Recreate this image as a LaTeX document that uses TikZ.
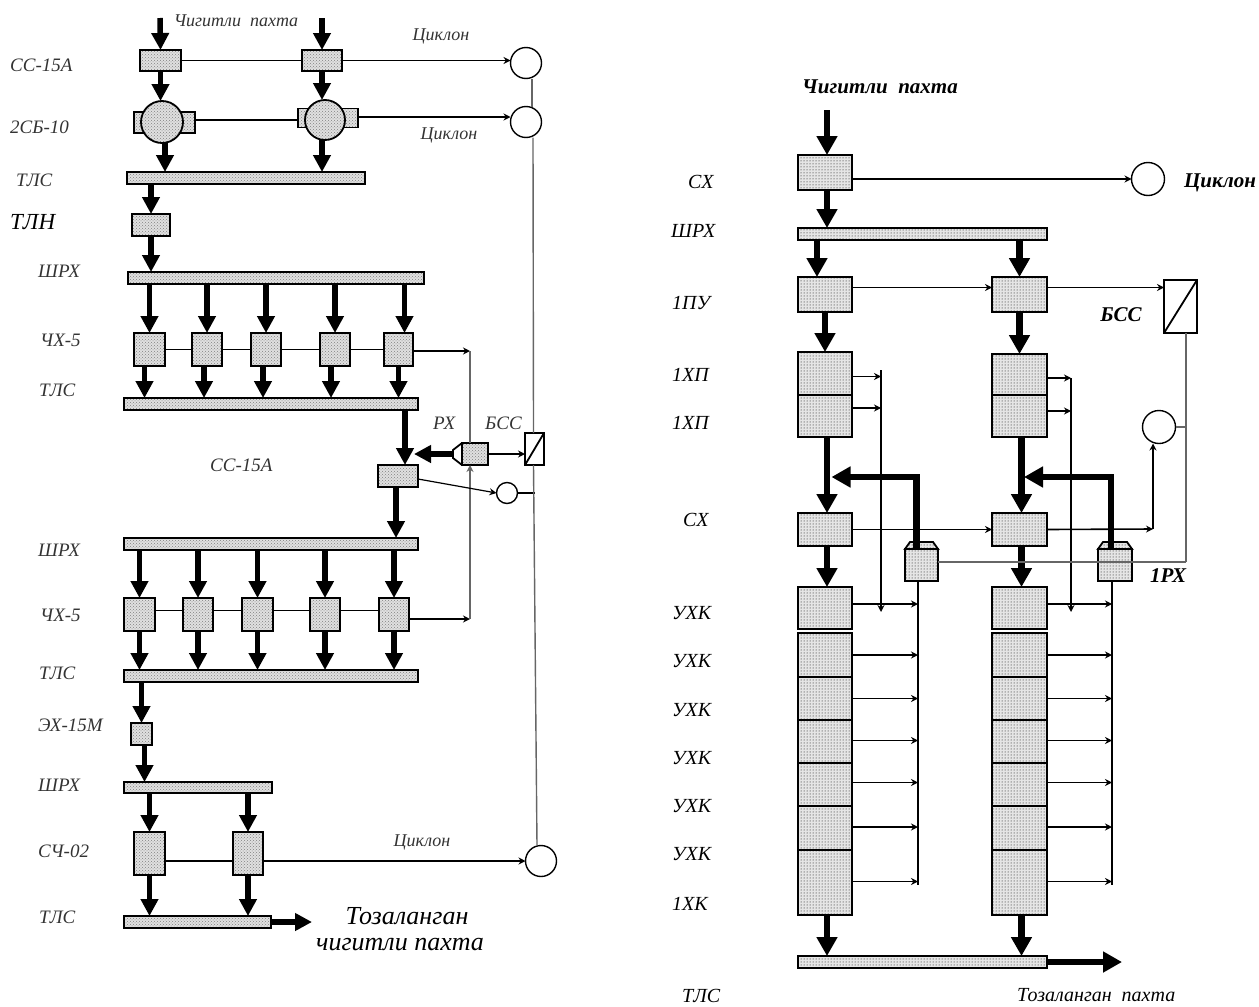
\documentclass[tikz,border=0pt]{standalone}
\usepackage{fontspec}
\setmainfont{Liberation Serif}
\usepackage{tikz}
\usetikzlibrary{positioning,calc,arrows.meta,patterns}

\tikzset{
 cellL/.style = {rectangle, draw, line width=1.8pt, preaction={fill=black!12}, pattern=crosshatch dots, pattern color=black!50, inner sep=0pt, outer sep=0pt},
 cellR/.style = {rectangle, draw, line width=2pt, preaction={fill=black!10}, pattern=dots, pattern color=black, inner sep=0pt, outer sep=0pt},
 blank/.style = {rectangle, draw, line width=1.8pt, fill=white, inner sep=0pt, outer sep=0pt},
 cyclone/.style = {circle, draw, line width=1.4pt, fill=white, minimum size=31, inner sep=0pt, outer sep=0pt},
 flow/.style = {line width=5.5pt, -{Triangle[length=17pt,width=17pt]}},
 flowR/.style = {line width=6.5pt, -{Triangle[length=19pt,width=20pt]}},
 pipe/.style = {line width=1.6pt, -{Stealth[length=7pt,width=7pt]}},
 wire/.style = {line width=1.6pt},
 greywire/.style = {line width=1.4pt, black!60},
 lab/.style = {anchor=west, text=black!80, font=\itshape\fontsize{19}{21}\selectfont, inner sep=0pt},
 labR/.style = {anchor=west, font=\itshape\fontsize{20}{22}\selectfont, inner sep=0pt},
 labB/.style = {font=\bfseries\itshape\fontsize{21}{23}\selectfont, inner sep=0pt},
 small/.style = {text=black!80, font=\itshape\fontsize{18}{20}\selectfont, inner sep=0pt},
}

\begin{document}
\begin{tikzpicture}[x=1pt, y=-1pt]
\useasboundingbox (0,0) rectangle (1259,1007);

% left line
\node[cellL, minimum width=41, minimum height=21] (cs1) at (160.5,60.5) {};
\node[cellL, minimum width=40, minimum height=21] (cs2) at (322,60.5) {};
\node[cellL, minimum width=61, minimum height=21] (dr1) at (164.5,122.5) {};
\node[cellL, minimum width=60, minimum height=19] (dr2) at (328,118) {};
\node[cellL, circle, minimum size=42] (dc1) at (162,122) {};
\node[cellL, circle, minimum size=40] (dc2) at (325,120) {};
\node[cellL, minimum width=238, minimum height=12] (tls1) at (246,178) {};
\node[cellL, minimum width=38, minimum height=22] (tln) at (151,225) {};
\node[cellL, minimum width=296, minimum height=12] (shr1) at (276,278) {};
\node[cellL, minimum width=31, minimum height=33] (ch1) at (149.5,349.5) {};
\node[cellL, minimum width=30, minimum height=33] (ch2) at (207,349.5) {};
\node[cellL, minimum width=30, minimum height=33] (ch3) at (266,349.5) {};
\node[cellL, minimum width=30, minimum height=33] (ch4) at (335,349.5) {};
\node[cellL, minimum width=29, minimum height=33] (ch5) at (398.5,349.5) {};
\node[cellL, minimum width=294, minimum height=12] (tls2) at (271,404) {};
\node[cellL, minimum width=26, minimum height=22] (rxl) at (475,454) {};
\node[blank, minimum width=19, minimum height=32] (bss1) at (534.5,449) {};
\node[cellL, minimum width=40, minimum height=22] (cs3) at (398,476) {};
\node[cellL, minimum width=294, minimum height=12] (shr2) at (271,544) {};
\node[cellL, minimum width=31, minimum height=33] (cb1) at (139.5,614.5) {};
\node[cellL, minimum width=30, minimum height=33] (cb2) at (198,614.5) {};
\node[cellL, minimum width=31, minimum height=33] (cb3) at (257.5,614.5) {};
\node[cellL, minimum width=30, minimum height=33] (cb4) at (325,614.5) {};
\node[cellL, minimum width=30, minimum height=33] (cb5) at (394,614.5) {};
\node[cellL, minimum width=294, minimum height=12] (tls3) at (271,676) {};
\node[cellL, minimum width=21, minimum height=22] (ex) at (141.5,734) {};
\node[cellL, minimum width=148, minimum height=11] (shr3) at (198,787.5) {};
\node[cellL, minimum width=31, minimum height=43] (sc1) at (149.5,853.5) {};
\node[cellL, minimum width=30, minimum height=43] (sc2) at (248,853.5) {};
\node[cellL, minimum width=147, minimum height=12] (tls4) at (197.5,922) {};
\node[cyclone] (cy1) at (526,63) {};
\node[cyclone] (cy2) at (526,122) {};
\node[cyclone, minimum size=21] (cy3) at (507,493) {};
\node[cyclone] (cy4) at (541,861) {};

\coordinate (in1) at (160,18);
\coordinate (in2) at (322,18);
\coordinate (rtop) at (470,351);
\coordinate (rbot) at (470,619);
\coordinate (rxneck) at (453,454);
\coordinate (rxtip) at (414,454);
\coordinate (tip1) at (312,922);

\draw[line width=1.8pt] (rxl.north west) -- ++(-9,7) -- ++(0,8) -- (rxl.south west);
\draw[line width=1.8pt] (bss1.south west) -- (bss1.north east);

\draw[flow] (in1) -- (cs1.north);
\draw[flow] (in2) -- (cs2.north);
\draw[flow] (cs1.south) -- (dc1.north -| cs1.south);
\draw[flow] (cs2.south) -- (dc2.north -| cs2.south);
\draw[flow] ([xshift=3]dc1.south) -- ([xshift=3]dc1.south |- tls1.north);
\draw[flow] ([xshift=-3]dc2.south) -- ([xshift=-3]dc2.south |- tls1.north);
\draw[flow] (tln.north |- tls1.south) -- (tln.north);
\draw[flow] (tln.south) -- (tln.south |- shr1.north);
\draw[flow] (ch1.north |- shr1.south) -- (ch1.north);
\draw[flow] (ch2.north |- shr1.south) -- (ch2.north);
\draw[flow] (ch3.north |- shr1.south) -- (ch3.north);
\draw[flow] (ch4.north |- shr1.south) -- (ch4.north);
\draw[flow] ([xshift=6]ch5.north |- shr1.south) -- ([xshift=6]ch5.north);
\draw[flow] ([xshift=-5]ch1.south) -- ([xshift=-5]ch1.south |- tls2.north);
\draw[flow] ([xshift=-3]ch2.south) -- ([xshift=-3]ch2.south |- tls2.north);
\draw[flow] ([xshift=-3]ch3.south) -- ([xshift=-3]ch3.south |- tls2.north);
\draw[flow] ([xshift=-4]ch4.south) -- ([xshift=-4]ch4.south |- tls2.north);
\draw[flow] (ch5.south) -- (ch5.south |- tls2.north);
\draw[flow] ([xshift=7]cs3.north |- tls2.south) -- ([xshift=7]cs3.north);
\draw[flow] (rxneck) -- (rxtip);
\draw[flow] ([xshift=-2]cs3.south) -- ([xshift=-2]cs3.south |- shr2.north);
\draw[flow] (cb1.north |- shr2.south) -- (cb1.north);
\draw[flow] (cb2.north |- shr2.south) -- (cb2.north);
\draw[flow] (cb3.north |- shr2.south) -- (cb3.north);
\draw[flow] (cb4.north |- shr2.south) -- (cb4.north);
\draw[flow] (cb5.north |- shr2.south) -- (cb5.north);
\draw[flow] (cb1.south) -- (cb1.south |- tls3.north);
\draw[flow] (cb2.south) -- (cb2.south |- tls3.north);
\draw[flow] (cb3.south) -- (cb3.south |- tls3.north);
\draw[flow] (cb4.south) -- (cb4.south |- tls3.north);
\draw[flow] (cb5.south) -- (cb5.south |- tls3.north);
\draw[flow] (ex.north |- tls3.south) -- (ex.north);
\draw[flow] ([xshift=3]ex.south) -- ([xshift=3]ex.south |- shr3.north);
\draw[flow] (sc1.north |- shr3.south) -- (sc1.north);
\draw[flow] (sc2.north |- shr3.south) -- (sc2.north);
\draw[flow] (sc1.south) -- (sc1.south |- tls4.north);
\draw[flow] (sc2.south) -- (sc2.south |- tls4.north);
\draw[flow] (tls4.east) -- (tip1);

\draw[wire] (cs1.east) -- (cs2.west);
\draw[pipe] (cs2.east) -- (cs2.east -| cy1.west);
\draw[wire] (dr1.east |- dc2.center) -- (dr2.west |- dc2.center);
\draw[pipe] ([yshift=1]dr2.east) -- ([yshift=1]dr2.east -| cy2.west);
\draw[wire] (ch1.east) -- (ch2.west);
\draw[wire] (ch2.east) -- (ch3.west);
\draw[wire] (ch3.east) -- (ch4.west);
\draw[wire] (ch4.east) -- (ch5.west);
\draw[pipe] (ch5.east |- rtop) -- (rtop);
\draw[wire] ([yshift=4]cb1.east) -- ([yshift=4]cb2.west);
\draw[wire] ([yshift=4]cb2.east) -- ([yshift=4]cb3.west);
\draw[wire] ([yshift=4]cb3.east) -- ([yshift=4]cb4.west);
\draw[wire] ([yshift=4]cb4.east) -- ([yshift=4]cb5.west);
\draw[pipe] (cb5.east |- rbot) -- (rbot);
\draw[wire] (sc1.east |- cy4.west) -- (sc2.west |- cy4.west);
\draw[pipe] (sc2.east |- cy4.west) -- (cy4.west);
\draw[greywire] (rtop) -- (rtop |- rxl.north);
\draw[greywire, -{Stealth[length=7pt,width=7pt]}] (rbot) -- (rbot |- rxl.south);
\draw[pipe] (rxl.east) -- (bss1.west |- rxl.east);
\draw[line width=1.2pt, -{Stealth[length=7pt,width=7pt]}] ([yshift=-3]cs3.east) -- (cy3.west);
\draw[wire] (cy3.east) -- (cy3.east -| bss1.south);
\draw[greywire] ([xshift=6]cy1.south) -- ([xshift=6]cy2.north);
\draw[greywire] ([xshift=7]cy2.south) -- ([xshift=-1]bss1.north);
\draw[greywire] ([xshift=-1]bss1.south) -- ([xshift=-4]cy4.north);

% left labels
\node[lab] (l1) at (10,65) {СС-15А};
\node[lab] (l2) at (10,127) {2СБ-10};
\node[lab] (l3) at (16,180) {ТЛС};
\node[lab, text=black, font=\itshape\fontsize{23}{25}\selectfont] (l4) at (10,222) {ТЛН};
\node[lab] (l5) at (38,271) {ШРХ};
\node[lab] (l6) at (40,340) {ЧХ-5};
\node[lab] (l7) at (39,390) {ТЛС};
\node[lab] (l8) at (38,550) {ШРХ};
\node[lab] (l9) at (40,615) {ЧХ-5};
\node[lab] (l10) at (39,673) {ТЛС};
\node[lab] (l11) at (38,725) {ЭХ-15М};
\node[lab] (l12) at (38,785) {ШРХ};
\node[lab] (l13) at (38,851) {СЧ-02};
\node[lab] (l14) at (39,917) {ТЛС};
\node[small] (t1) at (236,21) {Чигитли\ \ пахта};
\node[small] (t2) at (441,36) {Циклон};
\node[small] (t3) at (449,135) {Циклон};
\node[small] (t4) at (422,842) {Циклон};
\node[lab] (t5) at (433,423) {РХ};
\node[lab] (t6) at (485,423) {БСС};
\node[lab] (t7) at (210,465) {СС-15А};
\node[anchor=center, font=\itshape\fontsize{26}{28}\selectfont, inner sep=0pt] (t8) at (407,916) {Тозаланган};
\node[anchor=center, font=\itshape\fontsize{26}{28}\selectfont, inner sep=0pt] (t9) at (400,945) {чигитли пахта};

% right line
\node[cellR, minimum width=54, minimum height=35] (a1) at (825,172.5) {};
\node[cellR, minimum width=249, minimum height=12] (shrR) at (922.5,234) {};
\node[cellR, minimum width=54, minimum height=35] (pu1) at (825,294.5) {};
\node[cellR, minimum width=55, minimum height=35] (pu2) at (1019.5,294.5) {};
\node[blank, minimum width=33, minimum height=53] (bss2) at (1180.5,306.5) {};
\node[cellR, minimum width=54, minimum height=43] (xp1) at (825,373.5) {};
\node[cellR, minimum width=54, minimum height=42] (xp2) at (825,416) {};
\node[cellR, minimum width=55, minimum height=41] (xp3) at (1019.5,374.5) {};
\node[cellR, minimum width=55, minimum height=42] (xp4) at (1019.5,416) {};
\node[cellR, minimum width=54, minimum height=33] (sx1) at (825,529.5) {};
\node[cellR, minimum width=55, minimum height=33] (sx2) at (1019.5,529.5) {};
\node[cellR, minimum width=33, minimum height=32] (rx1) at (921.5,565) {};
\node[cellR, minimum width=34, minimum height=32] (rx2) at (1115,565) {};
\node[cellR, minimum width=54, minimum height=42] (uk1) at (825,608) {};
\node[cellR, minimum width=54, minimum height=44] (uk2) at (825,655) {};
\node[cellR, minimum width=54, minimum height=43] (uk3) at (825,698.5) {};
\node[cellR, minimum width=54, minimum height=43] (uk4) at (825,741.5) {};
\node[cellR, minimum width=54, minimum height=43] (uk5) at (825,784.5) {};
\node[cellR, minimum width=54, minimum height=44] (uk6) at (825,828) {};
\node[cellR, minimum width=54, minimum height=65] (uk7) at (825,882.5) {};
\node[cellR, minimum width=55, minimum height=42] (uv1) at (1019.5,608) {};
\node[cellR, minimum width=55, minimum height=44] (uv2) at (1019.5,655) {};
\node[cellR, minimum width=55, minimum height=43] (uv3) at (1019.5,698.5) {};
\node[cellR, minimum width=55, minimum height=43] (uv4) at (1019.5,741.5) {};
\node[cellR, minimum width=55, minimum height=43] (uv5) at (1019.5,784.5) {};
\node[cellR, minimum width=55, minimum height=44] (uv6) at (1019.5,828) {};
\node[cellR, minimum width=55, minimum height=65] (uv7) at (1019.5,882.5) {};
\node[cellR, minimum width=249, minimum height=12] (tlsR) at (922.5,962) {};
\node[cyclone, minimum size=33] (cy5) at (1148,179) {};
\node[cyclone, minimum size=33] (cy6) at (1159,427) {};

\coordinate (in3) at (827,110);
\coordinate (tip2) at (1122,962);
\coordinate (bus1) at (881,370);
\coordinate (bus2) at (1071,378);
\coordinate (bus1e) at (881,612);
\coordinate (bus2e) at (1071,612);
\coordinate (ub1) at (918,885);
\coordinate (ub2) at (1112,885);
\coordinate (ret1) at (1186,562);
\coordinate (ret2) at (1186,427);
\coordinate (up1) at (1153,529);

\draw[line width=1.8pt, preaction={fill=black!10}, pattern=dots] (rx1.north west) -- ++(5,-7) -- ++(23,0) -- (rx1.north east) -- cycle;
\draw[line width=1.8pt, preaction={fill=black!10}, pattern=dots] (rx2.north west) -- ++(5,-7) -- ++(24,0) -- (rx2.north east) -- cycle;
\draw[line width=1.8pt] (bss2.south west) -- (bss2.north east);

\draw[flowR] (in3) -- (in3 |- a1.north);
\draw[flowR] (in3 |- a1.south) -- (in3 |- shrR.north);
\draw[flowR] ([xshift=-8]pu1.north |- shrR.south) -- ([xshift=-8]pu1.north);
\draw[flowR] (pu2.north |- shrR.south) -- (pu2.north);
\draw[flowR] (pu1.south) -- (pu1.south |- xp1.north);
\draw[flowR] (pu2.south) -- (pu2.south |- xp3.north);
\draw[flowR] ([xshift=2]xp2.south) -- ([xshift=2]sx1.north);
\draw[flowR] ([xshift=2]xp4.south) -- ([xshift=2]sx2.north);
\draw[flowR] ([xshift=2]sx1.south) -- ([xshift=2]uk1.north);
\draw[flowR] ([xshift=2]sx2.south) -- ([xshift=2]uv1.north);
\draw[flowR] ([xshift=-5]rx1.north) -- ++(0,-72) -- ++(-85,0);
\draw[flowR] ([xshift=-4]rx2.north) -- ++(0,-72) -- ++(-87,0);
\draw[flowR] ([xshift=2]uk7.south) -- ([xshift=2]uk7.south |- tlsR.north);
\draw[flowR] ([xshift=2]uv7.south) -- ([xshift=2]uv7.south |- tlsR.north);
\draw[flowR] (tlsR.east) -- (tip2);

\draw[pipe] (a1.east |- cy5.west) -- (cy5.west);
\draw[pipe] ([yshift=7]pu1.east) -- ([yshift=7]pu2.west);
\draw[pipe] ([yshift=7]pu2.east) -- ([yshift=7]pu2.east -| bss2.west);
\draw[pipe] ([yshift=-3]xp1.east) -- ([yshift=-3]xp1.east -| bus1);
\draw[pipe] ([yshift=8]xp2.east) -- ([yshift=8]xp2.east -| bus1);
\draw[pipe] (xp3.east |- bus2) -- (bus2);
\draw[pipe] ([yshift=5]xp4.east) -- ([yshift=5]xp4.east -| bus2);
\draw[pipe] (bus1) -- (bus1e);
\draw[pipe] (bus2) -- (bus2e);
\draw[pipe] (sx1.east) -- (sx2.west);
\draw[pipe] (sx2.east) -- (up1);
\draw[pipe] (up1) -- (up1 |- cy6.south);
\draw[greywire] (bss2.south -| ret1) -- (ret1);
\draw[greywire] (ret2) -- (cy6.east);
\draw[greywire] (ret1) -- (rx1.east |- ret1);

\draw[wire] (rx1.south -| ub1) -- (ub1);
\draw[wire] (rx2.south -| ub2) -- (ub2);
\draw[pipe] ([yshift=4]uk1.east) -- ([yshift=4]uk1.east -| ub1);
\draw[pipe] (uk2.east) -- (uk2.east -| ub1);
\draw[pipe] (uk3.east) -- (uk3.east -| ub1);
\draw[pipe] ([yshift=1]uk4.east) -- ([yshift=1]uk4.east -| ub1);
\draw[pipe] ([yshift=2]uk5.east) -- ([yshift=2]uk5.east -| ub1);
\draw[pipe] ([yshift=1]uk6.east) -- ([yshift=1]uk6.east -| ub1);
\draw[pipe] ([yshift=1]uk7.east) -- ([yshift=1]uk7.east -| ub1);
\draw[pipe] ([yshift=4]uv1.east) -- ([yshift=4]uv1.east -| ub2);
\draw[pipe] (uv2.east) -- (uv2.east -| ub2);
\draw[pipe] (uv3.east) -- (uv3.east -| ub2);
\draw[pipe] ([yshift=1]uv4.east) -- ([yshift=1]uv4.east -| ub2);
\draw[pipe] ([yshift=2]uv5.east) -- ([yshift=2]uv5.east -| ub2);
\draw[pipe] ([yshift=1]uv6.east) -- ([yshift=1]uv6.east -| ub2);
\draw[pipe] ([yshift=1]uv7.east) -- ([yshift=1]uv7.east -| ub2);

% right labels
\node[labR] (r1) at (688,182) {СХ};
\node[labR] (r2) at (671,231) {ШРХ};
\node[labR] (r3) at (672,303) {1ПУ};
\node[labR] (r4) at (672,375) {1ХП};
\node[labR] (r5) at (672,423) {1ХП};
\node[labR] (r6) at (683,520) {СХ};
\node[labR] (r7) at (672,613) {УХК};
\node[labR] (r8) at (672,661) {УХК};
\node[labR] (r9) at (672,710) {УХК};
\node[labR] (r10) at (672,758) {УХК};
\node[labR] (r11) at (672,806) {УХК};
\node[labR] (r12) at (672,854) {УХК};
\node[labR] (r13) at (672,904) {1ХК};
\node[labR] (r14) at (682,996) {ТЛС};
\node[labB] (r15) at (880,87) {Чигитли\ \ пахта};
\node[labB] (r16) at (1220,183) {Циклон};
\node[labB] (r17) at (1121,315) {БСС};
\node[labB] (r18) at (1168,576) {1РХ};
\node[labR, font=\itshape\fontsize{20}{22}\selectfont] (r19) at (1017,995) {Тозаланган\ \ пахта};
\end{tikzpicture}
\end{document}
